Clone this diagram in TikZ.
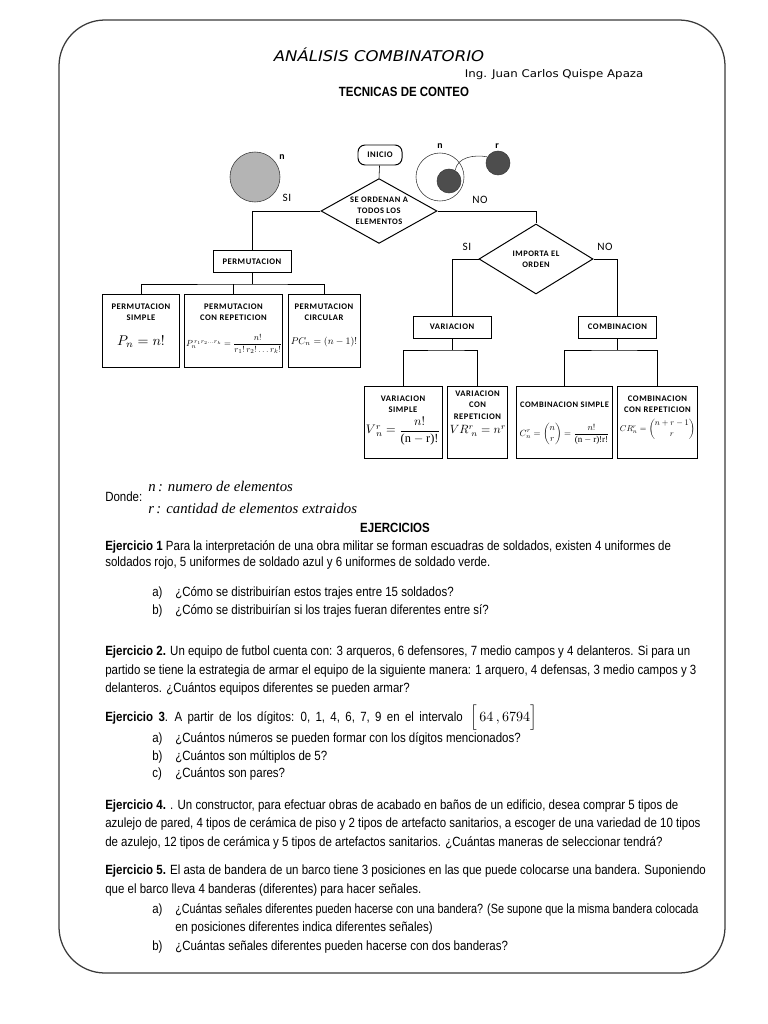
\documentclass[tikz,border=0pt]{standalone}
\usepackage{amsmath}
\usepackage{fontspec}
\setmainfont{Liberation Sans}
\newfontfamily\narrowfont{Liberation Sans}[FakeStretch=0.86]
\newfontfamily\chartfont{Carlito}[LetterSpace=6]
\newfontfamily\headfont{DejaVu Sans}[FakeStretch=1.12]
\newfontfamily\timesfont{Liberation Serif}
\usetikzlibrary{positioning,shapes.geometric}
\definecolor{cFrame}{HTML}{3A3A3A}
\definecolor{cDisk}{HTML}{B4B4B4}
\definecolor{cDot}{HTML}{4D4D4D}

\begin{document}
\begin{tikzpicture}[x=0.025cm, y=-0.025cm,
  box/.style={draw, line width=0.7pt, inner sep=0pt},
  dec/.style={diamond, aspect=1.8, draw, line width=0.7pt, inner sep=0pt, align=center,
    font=\chartfont\bfseries\fontsize{6}{8}\selectfont},
  lbl/.style={align=center, inner sep=0pt, font=\chartfont\bfseries\fontsize{6.1}{8}\selectfont},
  fml/.style={inner sep=0pt, font=\fontsize{10}{12}\selectfont},
  side/.style={inner sep=0pt, font=\chartfont\fontsize{8}{9}\selectfont},
  body/.style={anchor=west, inner sep=0pt, font=\narrowfont\fontsize{9.5}{11}\selectfont}]
  \useasboundingbox (0,0) rectangle (768,1024);
  \draw[cFrame, line width=0.9pt, rounded corners=1.15cm] (59,20) rectangle (725,973);

  % heading
  \node[font=\headfont\itshape\fontsize{10.5}{12}\selectfont] (title) at (379,55) {ANÁLISIS COMBINATORIO};
  \node[anchor=west, font=\headfont\fontsize{7.5}{9}\selectfont] (author) at (460,75) {Ing. Juan Carlos Quispe Apaza};
  \node[font=\narrowfont\bfseries\fontsize{9.5}{11}\selectfont] (tecnicas) at (404,92) {TECNICAS DE CONTEO};

  % sets
  \node[circle, draw=cFrame, fill=cDisk, minimum size=1.25cm] (setn) at (255,177) {};
  \node[side, font=\chartfont\bfseries\fontsize{7}{8}\selectfont] (setnlbl) at (282,157) {n};
  \node[side] (si1) at (287,198) {SI};
  \node[circle, draw=cFrame, minimum size=1.2cm] (big) at (440,177) {};
  \node[circle, draw=cFrame, fill=cDot, minimum size=0.6cm] (sub) at (449,181) {};
  \node[circle, draw=cFrame, fill=cDot, minimum size=0.6cm] (elem) at (498,163) {};
  \draw[cFrame] (sub.60) to[out=80, in=170] (elem.150);
  \node[side, font=\chartfont\bfseries\fontsize{7}{8}\selectfont] (biglbl) at (440,146) {n};
  \node[side, font=\chartfont\bfseries\fontsize{7}{8}\selectfont] (elemlbl) at (497,146) {r};
  \node[side] (no1) at (480,200) {NO};

  % flow
  \node[box, rounded corners=5pt, minimum width=1.1cm, minimum height=0.5cm, lbl] (inicio) at (380,155) {INICIO};
  \node[dec, minimum width=2.9cm, minimum height=1.62cm] (ord) at (379,211) {SE ORDENAN A\\TODOS LOS\\ELEMENTOS};
  \node[dec, aspect=1.6, minimum width=2.85cm, minimum height=1.75cm] (imp) at (536,259) {IMPORTA EL\\ORDEN};
  \node[side] (si2) at (467,247) {SI};
  \node[side] (no2) at (605,247) {NO};
  \node[box, minimum width=1.95cm, minimum height=0.53cm, lbl] (perm) at (252,261.5) {PERMUTACION};
  \node[box, minimum width=1.95cm, minimum height=0.55cm, lbl] (var) at (452,327) {VARIACION};
  \node[box, minimum width=1.93cm, minimum height=0.55cm, lbl] (comb) at (617.5,327) {COMBINACION};

  \draw (inicio) -- (ord.north);
  \draw (ord.west) -| (perm.north);
  \draw (ord.east) -| (imp.north);
  \draw (imp.west) -| (var.north);
  \draw (imp.east) -| (comb.north);

  % permutations
  \node[box, minimum width=1.9cm, minimum height=1.8cm] (ps) at (141,331) {};
  \node[box, minimum width=2.43cm, minimum height=1.8cm] (pr) at (233.5,331) {};
  \node[box, minimum width=1.8cm, minimum height=1.8cm] (pc) at (324,331) {};
  \coordinate (pj) at (252,284);
  \draw (perm) -- (pj);
  \draw (ps.north) |- (pj) -| (pc.north);
  \draw (pr.north) -- (pr.north |- pj);
  \node[lbl] (pslbl) at (141,312) {PERMUTACION\\SIMPLE};
  \node[lbl] (prlbl) at (233.5,312) {PERMUTACION\\CON REPETICION};
  \node[lbl] (pclbl) at (324,312) {PERMUTACION\\CIRCULAR};
  \node[fml] (psf) at (141,342) {$P_{n}=n!$};
  \node[fml, scale=0.63] (prf) at (234,344) {$P_{n}^{\,r_1 r_2\ldots r_k}=\dfrac{n!}{r_1!\,r_2!\ldots r_k!}$};
  \node[fml, scale=0.7] (pcf) at (324,342) {$PC_{n}=(n-1)!$};

  % variations
  \node[box, minimum width=1.95cm, minimum height=1.78cm] (vs) at (403,422.5) {};
  \node[box, minimum width=1.48cm, minimum height=1.78cm] (vr) at (477.5,422.5) {};
  \coordinate (vj) at (452,350);
  \draw (var) -- (vj);
  \draw (vs.north) |- (vj) -| (vr.north);
  \node[lbl] (vslbl) at (403,404) {VARIACION\\SIMPLE};
  \node[lbl] (vrlbl) at (477.5,405) {VARIACION\\CON\\REPETICION};
  \node[fml, scale=0.88] (vsf) at (403,431) {$V^{r}_{\;n}=\dfrac{n!}{\text{\timesfont(n}-\text{\timesfont r)!}}$};
  \node[fml, scale=0.85] (vrf) at (478,431) {$VR^{r}_{\;n}=n^{r}$};

  % combinations
  \node[box, minimum width=2.38cm, minimum height=1.78cm] (cs) at (564.5,422.5) {};
  \node[box, minimum width=1.98cm, minimum height=1.78cm] (cr) at (657.5,422.5) {};
  \coordinate (cj) at (617.5,350);
  \draw (comb) -- (cj);
  \draw (cs.north) |- (cj) -| (cr.north);
  \node[lbl, font=\chartfont\bfseries\fontsize{6}{8}\selectfont] (cslbl) at (564.5,405) {COMBINACION SIMPLE};
  \node[lbl] (crlbl) at (657.5,404) {COMBINACION\\CON REPETICION};
  \node[fml, scale=0.64] (csf) at (564.5,434) {$C^{r}_{n}=\begin{pmatrix}n\\ r\end{pmatrix}=\dfrac{n!}{\text{\timesfont(n}-\text{\timesfont r)!r!}}$};
  \node[fml, scale=0.6] (crf) at (657.5,429) {$CR^{r}_{n}=\begin{pmatrix}n+r-1\\ r\end{pmatrix}$};

  % notation
  \node[body] (donde) at (105,497) {Donde:};
  \node[anchor=west, inner sep=0pt, font=\timesfont\itshape\fontsize{10.5}{12}\selectfont] (nnote) at (148,486) {n\,: numero de elementos};
  \node[anchor=west, inner sep=0pt, font=\timesfont\itshape\fontsize{10.5}{12}\selectfont] (rnote) at (148,508) {r\,: cantidad de elementos extraidos};

  % exercises
  \node[body, anchor=center, font=\narrowfont\bfseries\fontsize{9.5}{11}\selectfont] (ejer) at (395,528) {EJERCICIOS};
  \node[body] (e1a) at (105,547) {\textbf{Ejercicio 1} Para la interpretación de una obra militar se forman escuadras de soldados, existen 4 uniformes de};
  \node[body] (e1b) at (105,563) {soldados rojo, 5 uniformes de soldado azul y 6 uniformes de soldado verde.};
  \node[body] (e1ia) at (152,593) {a)};
  \node[body] (e1ta) at (175,593) {¿Cómo se distribuirían estos trajes entre 15 soldados?};
  \node[body] (e1ib) at (152,611) {b)};
  \node[body] (e1tb) at (175,611) {¿Cómo se distribuirían si los trajes fueran diferentes entre sí?};

  \node[body] (e2a) at (105,652) {\textbf{Ejercicio 2.} Un equipo de futbol cuenta con: 3 arqueros, 6 defensores, 7 medio campos y 4 delanteros. Si para un};
  \node[body] (e2b) at (105,671) {partido se tiene la estrategia de armar el equipo de la siguiente manera: 1 arquero, 4 defensas, 3 medio campos y 3};
  \node[body] (e2c) at (105,689) {delanteros. ¿Cuántos equipos diferentes se pueden armar?};

  \node[body] (e3a) at (105,718) {\spaceskip=0.4em\relax\textbf{Ejercicio 3}. A partir de los dígitos: 0, 1, 4, 6, 7, 9 en el intervalo};
  \node[body, font=\fontsize{10}{12}\selectfont, right=5pt of e3a] (e3int) {$\Big[\,64\,,6794\Big]$};
  \node[body] (e3ia) at (152,739) {a)};
  \node[body] (e3ta) at (175,739) {¿Cuántos números se pueden formar con los dígitos mencionados?};
  \node[body] (e3ib) at (152,757) {b)};
  \node[body] (e3tb) at (175,757) {¿Cuántos son múltiplos de 5?};
  \node[body] (e3ic) at (152,774) {c)};
  \node[body] (e3tc) at (175,774) {¿Cuántos son pares?};

  \node[body] (e4a) at (105,806) {\textbf{Ejercicio 4.} . Un constructor, para efectuar obras de acabado en baños de un edificio, desea comprar 5 tipos de};
  \node[body] (e4b) at (105,824) {azulejo de pared, 4 tipos de cerámica de piso y 2 tipos de artefacto sanitarios, a escoger de una variedad de 10 tipos};
  \node[body] (e4c) at (105,843) {de azulejo, 12 tipos de cerámica y 5 tipos de artefactos sanitarios. ¿Cuántas maneras de seleccionar tendrá?};

  \node[body] (e5a) at (105,871) {\textbf{Ejercicio 5.} El asta de bandera de un barco tiene 3 posiciones en las que puede colocarse una bandera. Suponiendo};
  \node[body] (e5b) at (105,890) {que el barco lleva 4 banderas (diferentes) para hacer señales.};
  \node[body] (e5ia) at (152,910) {a)};
  \node[body, xscale=0.94] (e5ta) at (175,910) {¿Cuántas señales diferentes pueden hacerse con una bandera? (Se supone que la misma bandera colocada};
  \node[body] (e5tc) at (175,928) {en posiciones diferentes indica diferentes señales)};
  \node[body] (e5ib) at (152,947) {b)};
  \node[body] (e5tb) at (175,947) {¿Cuántas señales diferentes pueden hacerse con dos banderas?};
\end{tikzpicture}
\end{document}
